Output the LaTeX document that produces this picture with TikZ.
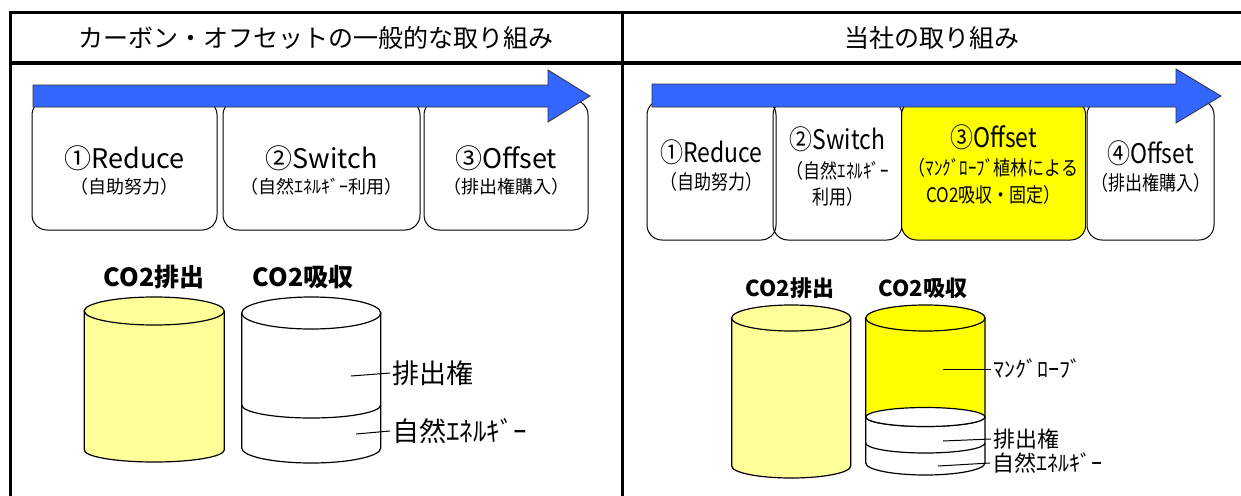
\documentclass[tikz,border=0pt]{standalone}
\usepackage{fontspec}
\setmainfont{Noto Sans CJK JP}
\definecolor{arrowblue}{RGB}{51,102,255}
\definecolor{paleyellow}{RGB}{255,255,153}
\definecolor{brightyellow}{RGB}{255,255,0}

\begin{document}
\begin{tikzpicture}[x=1pt,y=-1pt,
    rule/.style={line width=3pt},
    stepbox/.style={draw,line width=1pt,rounded corners=15pt},
    flow/.style={draw=black!80,line width=0.8pt,fill=arrowblue},
    tank/.style={draw,line width=1.2pt},
    head/.style={font=\fontsize{25}{30}\selectfont},
    big/.style={font=\fontsize{27}{30}\selectfont},
    small/.style={font=\fontsize{18}{22}\selectfont},
    bigr/.style={font=\fontsize{27}{30}\selectfont,xscale=0.85},
    smallr/.style={font=\fontsize{20}{24}\selectfont,xscale=0.85},
    tag/.style={font=\fontsize{25}{28}\selectfont\bfseries},
    tagr/.style={font=\fontsize{22}{26}\selectfont\bfseries},
    lbl/.style={font=\fontsize{27}{30}\selectfont,anchor=west,inner sep=2pt},
    lblr/.style={font=\fontsize{22}{26}\selectfont,anchor=west,inner sep=2pt}]
        \useasboundingbox (0,0) rectangle (1241,495);

        % table lines
        \draw[rule] (8.5,13) -- (1250,13);
        \draw[rule] (10,63) -- (1250,63);
        \draw[rule] (10,11.5) -- (10,500);
        \draw[rule] (622,11.5) -- (622,500);

        \node[head] (lhead) at (316,38) {カーボン・オフセットの一般的な取り組み};
        \node[head] (rhead) at (932,38) {当社の取り組み};

        % left steps
        \draw[stepbox] (32,100) rectangle (217,230);
        \draw[stepbox] (223,100) rectangle (420,230);
        \draw[stepbox] (424,100) rectangle (588,230);
        \filldraw[flow] (33,85) -- (548,85) -- (548,70) -- (590,96) -- (548,122) -- (548,107) -- (33,107) -- cycle;

        \node[big] (reduceA) at (124.5,158) {①Reduce};
        \node[small] (reduceAsub) at (124.5,187) {（自助努力）};
        \node[big] (switchA) at (321.5,158) {②Switch};
        \node[small] (switchAsub) at (321.5,187) {（自然ｴﾈﾙｷﾞｰ利用）};
        \node[big] (offsetA) at (506,158) {③Offset};
        \node[small] (offsetAsub) at (506,187) {（排出権購入）};

        % right steps
        \draw[stepbox] (647,100) rectangle (776,240);
        \draw[stepbox] (773,100) rectangle (902,240);
        \draw[stepbox,fill=brightyellow] (901.5,100) rectangle (1085.7,240);
        \draw[stepbox] (1087,100) rectangle (1214,240);
        \filldraw[flow] (652,84) -- (1176,84) -- (1176,69) -- (1221,96) -- (1176,123) -- (1176,107) -- (652,107) -- cycle;

        \node[bigr] (reduceB) at (711.5,152) {①Reduce};
        \node[smallr] (reduceBsub) at (711.5,182) {（自助努力）};
        \node[bigr] (switchB) at (837.5,139) {②Switch};
        \node[smallr] (switchBsub) at (837.5,171) {（自然ｴﾈﾙｷﾞｰ};
        \node[smallr] (switchBsubb) at (837.5,197) {利用）};
        \node[bigr] (offsetB) at (993.6,137) {③Offset};
        \node[smallr] (offsetBsub) at (993.6,168) {（ﾏﾝｸﾞﾛｰﾌﾞ植林による};
        \node[smallr] (offsetBsubb) at (993.6,195) {CO2吸収・固定）};
        \node[bigr] (offsetC) at (1150.5,153) {④Offset};
        \node[smallr] (offsetCsub) at (1150.5,183) {（排出権購入）};

        % left tanks
        \node[tag] (emitA) at (154,277) {CO2排出};
        \node[tag] (absorbA) at (303,277) {CO2吸収};

        \filldraw[tank,fill=paleyellow] (84.2,311) -- (84.2,450) arc[start angle=180,end angle=360,x radius=70pt,y radius=12pt] -- (224.2,311) -- cycle;
        \filldraw[tank,fill=paleyellow] (154.2,311) ellipse[x radius=70pt,y radius=14pt];

        \filldraw[tank,fill=white] (241.7,313) -- (241.7,448) arc[start angle=180,end angle=360,x radius=69.5pt,y radius=15pt] -- (380.7,313) -- cycle;
        \filldraw[tank,fill=white] (311.2,313) ellipse[x radius=69.5pt,y radius=16pt];
        \draw[tank] (241.7,405) arc[start angle=180,end angle=360,x radius=69.5pt,y radius=13pt];

        \coordinate (tradeA) at (351,376);
        \coordinate (greenA) at (356,434);
        \node[lbl] (tradeAlbl) at (390,373) {排出権};
        \node[lbl] (greenAlbl) at (390,431) {自然ｴﾈﾙｷﾞｰ};
        \draw[line width=1pt] (tradeA) -- (tradeAlbl.west);
        \draw[line width=1pt] (greenA) -- (greenAlbl.west);

        % right tanks
        \node[tagr] (emitB) at (790,288) {CO2排出};
        \node[tagr] (absorbB) at (923,288) {CO2吸収};

        \filldraw[tank,fill=paleyellow] (731.7,318) -- (731.7,466) arc[start angle=180,end angle=360,x radius=59.5pt,y radius=12pt] -- (850.7,318) -- cycle;
        \filldraw[tank,fill=paleyellow] (791.2,318) ellipse[x radius=59.5pt,y radius=13pt];

        \filldraw[tank,fill=white] (865.7,417) -- (865.7,463) arc[start angle=180,end angle=360,x radius=59.6pt,y radius=12pt] -- (985,417) -- cycle;
        \filldraw[tank,fill=brightyellow] (865.7,318) -- (865.7,417) arc[start angle=180,end angle=360,x radius=59.6pt,y radius=9.5pt] -- (985,318) -- cycle;
        \filldraw[tank,fill=brightyellow] (925.4,318) ellipse[x radius=59.6pt,y radius=13pt];
        \filldraw[tank,fill=white] (925.4,417) ellipse[x radius=59.6pt,y radius=9.5pt];
        \draw[tank] (865.7,443) arc[start angle=180,end angle=360,x radius=59.6pt,y radius=10pt];

        \coordinate (mangroveB) at (943,369);
        \coordinate (tradeB) at (943,441);
        \coordinate (greenB) at (938,466);
        \node[lblr] (mangroveBlbl) at (991,369) {ﾏﾝｸﾞﾛｰﾌﾞ};
        \node[lblr] (tradeBlbl) at (991,439) {排出権};
        \node[lblr] (greenBlbl) at (990,463) {自然ｴﾈﾙｷﾞｰ};
        \draw[line width=1pt] (mangroveB) -- (mangroveBlbl.west);
        \draw[line width=1pt] (tradeB) -- (tradeBlbl.west);
        \draw[line width=1pt] (greenB) -- (greenBlbl.west);
\end{tikzpicture}
\end{document}
